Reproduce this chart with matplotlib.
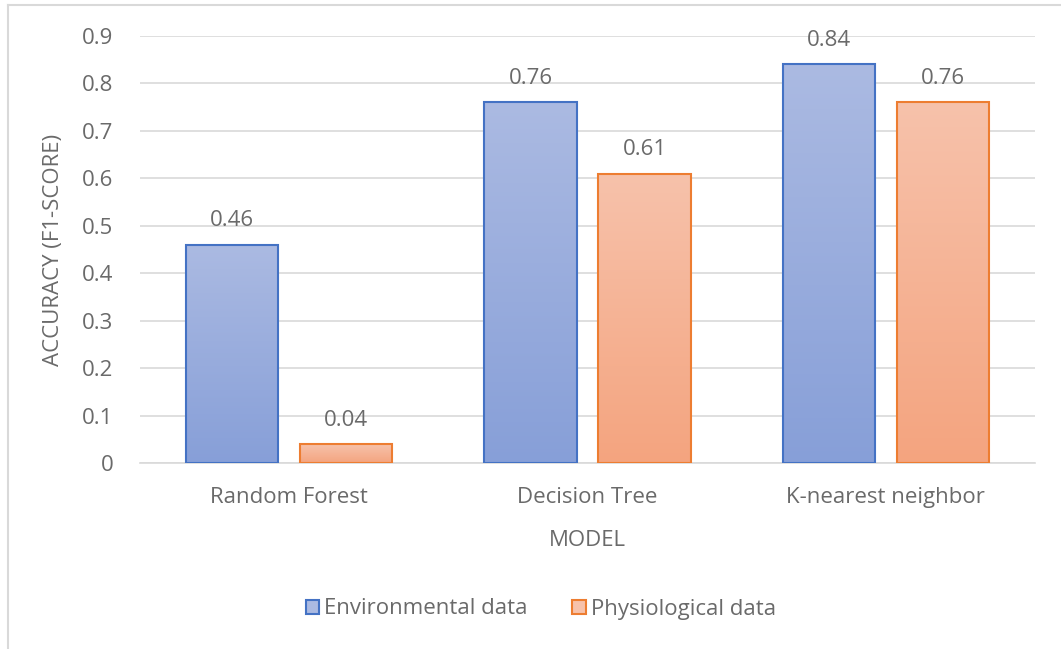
import numpy as np
import matplotlib.pyplot as plt
from matplotlib.colors import LinearSegmentedColormap
from matplotlib.patches import Patch
from matplotlib.lines import Line2D

models = ["Random Forest", "Decision Tree", "K-nearest neighbor"]
environmental = [0.46, 0.76, 0.84]
physiological = [0.04, 0.61, 0.76]
series_names = ["Environmental data", "Physiological data"]

TEXT = "#6a6a6a"
GRID = "#d9d9d9"
FONT = "Open Sans"
FS = 16
plt.rcParams["font.family"] = [FONT, "DejaVu Sans"]

# (top colour, bottom colour, edge colour) for each series
styles = [
    ("#abbae2", "#879fd8", "#4472c4"),
    ("#f7c2ab", "#f4a47f", "#ed7d31"),
]

fig = plt.figure(figsize=(10.61, 6.49), dpi=100)
ax = fig.add_axes([140 / 1061, 1 - 463 / 649, 895 / 1061, 427 / 649])

x = np.arange(len(models))
width = 0.309
offset = 0.191

grad = np.linspace(0, 1, 256).reshape(-1, 1)
for values, sign, (top, bottom, edge) in zip([environmental, physiological], [-1, 1], styles):
    cmap = LinearSegmentedColormap.from_list("g", [top, bottom])
    bars = ax.bar(x + sign * offset, values, width, facecolor="none",
                  edgecolor=edge, linewidth=1.5, zorder=3)
    for b, v in zip(bars, values):
        x0, x1 = b.get_x(), b.get_x() + b.get_width()
        im = ax.imshow(grad, cmap=cmap, aspect="auto", extent=(x0, x1, 0, v),
                       origin="upper", zorder=2)
        im.set_clip_path(b)
        ax.text(b.get_x() + b.get_width() / 2, v + 0.028, f"{v:g}",
                ha="center", va="bottom", color=TEXT, fontsize=FS)

ax.set_xlim(-0.5, 2.5)
ax.set_ylim(0, 0.9)
ax.set_yticks(np.arange(0, 0.91, 0.1))
ax.set_yticklabels(["0"] + [f"{t:.1f}" for t in np.arange(0.1, 0.91, 0.1)])
ax.set_xticks(x)
ax.set_xticklabels(models)
ax.tick_params(axis="both", length=0, labelsize=FS, labelcolor=TEXT)
ax.tick_params(axis="y", pad=19)
ax.tick_params(axis="x", pad=17)
ax.grid(axis="y", color=GRID, linewidth=1.2, zorder=0)
ax.set_axisbelow(True)
for s in ["top", "right", "left"]:
    ax.spines[s].set_visible(False)
ax.spines["bottom"].set_color(GRID)
ax.spines["bottom"].set_linewidth(1.2)

ax.set_xlabel("MODEL", fontsize=FS, color=TEXT, labelpad=16)
ax.set_ylabel("ACCURACY (F1-SCORE)", fontsize=FS, color=TEXT, labelpad=13)

handles = [Patch(facecolor=c[0], edgecolor=c[2], linewidth=1.5) for c in styles]
leg = fig.legend(handles, series_names, loc="center", bbox_to_anchor=(541 / 1061, 1 - 609 / 649),
                 ncol=2, frameon=False, fontsize=FS, handlelength=0.6, handleheight=0.6,
                 handletextpad=0.25, columnspacing=2.0)
for t in leg.get_texts():
    t.set_color(TEXT)

# chart frame
fig.add_artist(Line2D([8 / 1061, 8 / 1061], [0, 1 - 5 / 649], transform=fig.transFigure,
                      color=GRID, linewidth=1.5))
fig.add_artist(Line2D([8 / 1061, 1], [1 - 5 / 649, 1 - 5 / 649], transform=fig.transFigure,
                      color=GRID, linewidth=1.5))

fig.savefig("out.png", dpi=100)
